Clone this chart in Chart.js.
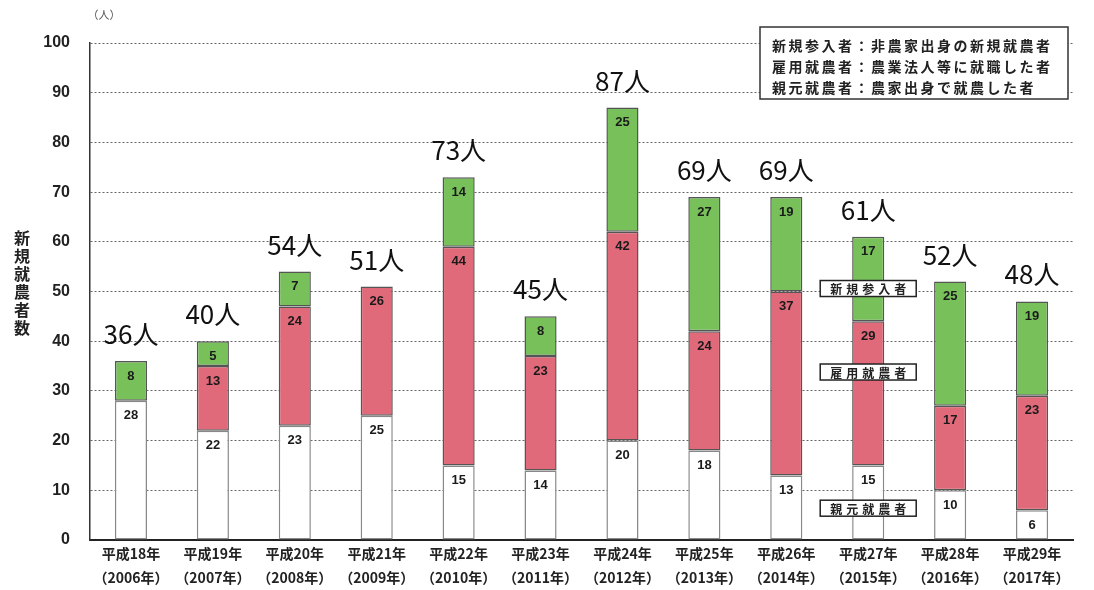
<!DOCTYPE html>
<html>
<head>
<meta charset="utf-8">
<script src="https://cdn.jsdelivr.net/npm/chart.js@4"></script>
<style>
  html, body { margin: 0; padding: 0; background: #fff; }
  #wrap { width: 1094px; height: 590px; }
</style>
</head>
<body>
<div id="wrap"><canvas id="chart" width="1094" height="590"></canvas></div>
<script>
// data
const categories = [
  ['平成18年', '（2006年）'], ['平成19年', '（2007年）'], ['平成20年', '（2008年）'],
  ['平成21年', '（2009年）'], ['平成22年', '（2010年）'], ['平成23年', '（2011年）'],
  ['平成24年', '（2012年）'], ['平成25年', '（2013年）'], ['平成26年', '（2014年）'],
  ['平成27年', '（2015年）'], ['平成28年', '（2016年）'], ['平成29年', '（2017年）']
];
const oyamoto = [28, 22, 23, 25, 15, 14, 20, 18, 13, 15, 10, 6];   // 親元就農者
const koyou   = [0, 13, 24, 26, 44, 23, 42, 24, 37, 29, 17, 23];   // 雇用就農者
const sannyu  = [8, 5, 7, 0, 14, 8, 25, 27, 19, 17, 25, 19];       // 新規参入者
const yTicks = [0, 10, 20, 30, 40, 50, 60, 70, 80, 90, 100];
const legendLines = [
  '新規参入者：非農家出身の新規就農者',
  '雇用就農者：農業法人等に就職した者',
  '親元就農者：農家出身で就農した者'
];
const seriesNames = ['親元就農者', '雇用就農者', '新規参入者'];

const JP = '"Noto Sans CJK JP", "Liberation Sans", sans-serif';

const labelsPlugin = {
  id: 'labels',
  afterDatasetsDraw(chart) {
    const ctx = chart.ctx;
    ctx.save();
    // segment values
    ctx.font = 'bold 13px "Liberation Sans", Arial, sans-serif';
    ctx.textAlign = 'center';
    ctx.textBaseline = 'middle';
    ctx.fillStyle = '#1a1a1a';
    chart.data.datasets.forEach((ds, di) => {
      const meta = chart.getDatasetMeta(di);
      meta.data.forEach((bar, i) => {
        const v = ds.data[i];
        if (!v) return;
        ctx.fillText(String(v), bar.x, bar.y + 15);
      });
    });
    // totals
    ctx.font = '26px ' + JP;
    ctx.fillStyle = '#111';
    ctx.textBaseline = 'alphabetic';
    const top = chart.getDatasetMeta(2).data;
    categories.forEach((c, i) => {
      const total = oyamoto[i] + koyou[i] + sannyu[i];
      const y = chart.scales.y.getPixelForValue(total);
      ctx.fillText(total + '人', top[i].x, y - 17);
    });
    // boxed series names on the 2015 bar
    const x15 = top[9].x;
    const boxes = [[seriesNames[2], 50.6], [seriesNames[1], 33.8], [seriesNames[0], 6.4]];
    ctx.font = 'bold 12px ' + JP;
    ctx.textBaseline = 'middle';
    boxes.forEach(([t, v]) => {
      const y = chart.scales.y.getPixelForValue(v);
      ctx.fillStyle = '#fff';
      ctx.fillRect(x15 - 48, y - 8, 96, 16);
      ctx.strokeStyle = '#222';
      ctx.lineWidth = 1.5;
      ctx.strokeRect(x15 - 48, y - 8, 96, 16);
      ctx.fillStyle = '#222';
      ctx.letterSpacing = '4px';
      ctx.fillText(t, x15 + 2, y + 1);
      ctx.letterSpacing = '0px';
    });
    // legend box
    ctx.fillStyle = '#fff';
    ctx.fillRect(760, 27, 308, 72);
    ctx.strokeStyle = '#333';
    ctx.lineWidth = 1.5;
    ctx.strokeRect(760, 27, 308, 72);
    ctx.fillStyle = '#222';
    ctx.font = 'bold 14px ' + JP;
    ctx.textAlign = 'left';
    ctx.letterSpacing = '2.5px';
    legendLines.forEach((t, i) => ctx.fillText(t, 772, 46 + i * 21));
    ctx.letterSpacing = '0px';
    // unit and axis title
    ctx.font = '11px ' + JP;
    ctx.fillStyle = '#555';
    ctx.textAlign = 'center';
    ctx.fillText('（人）', 104, 15);
    ctx.font = 'bold 16px ' + JP;
    ctx.fillStyle = '#222';
    '新規就農者数'.split('').forEach((ch, i) => ctx.fillText(ch, 22, 238 + i * 18));
    ctx.restore();
  }
};

const common = { borderColor: '#555', borderWidth: 1.5, borderSkipped: false,
  barPercentage: 0.8, categoryPercentage: 0.49 };

new Chart(document.getElementById('chart').getContext('2d'), {
  type: 'bar',
  data: {
    labels: categories,
    datasets: [
      Object.assign({ label: seriesNames[0], data: oyamoto, backgroundColor: '#ffffff' }, common, { borderColor: '#888' }),
      Object.assign({ label: seriesNames[1], data: koyou, backgroundColor: '#e0697a' }, common),
      Object.assign({ label: seriesNames[2], data: sannyu, backgroundColor: '#78c05a' }, common)
    ]
  },
  options: {
    responsive: false,
    animation: false,
    layout: { padding: { top: 43, right: 21, left: 0, bottom: 0 } },
    plugins: { legend: { display: false }, tooltip: { enabled: false } },
    scales: {
      x: {
        stacked: true,
        grid: { display: false },
        border: { color: '#222', width: 2 },
        ticks: { color: '#222', font: { family: JP, size: 14, weight: 'bold', lineHeight: 1.7 }, padding: -6, maxRotation: 0, autoSkip: false },
        afterFit(s) { s.height = 50; }
      },
      y: {
        stacked: true,
        min: 0, max: 100,
        afterBuildTicks(s) { s.ticks = yTicks.map(v => ({ value: v })); },
        grid: { color: '#666', lineWidth: 1, drawTicks: false },
        border: { color: '#333', width: 1.5, dash: [2, 2] },
        ticks: { color: '#222', padding: 20, font: { family: '"Liberation Sans", Arial, sans-serif', size: 16, weight: 'bold' } },
        afterFit(s) { s.width = 90; }
      }
    }
  },
  plugins: [labelsPlugin]
});
</script>
</body>
</html>
